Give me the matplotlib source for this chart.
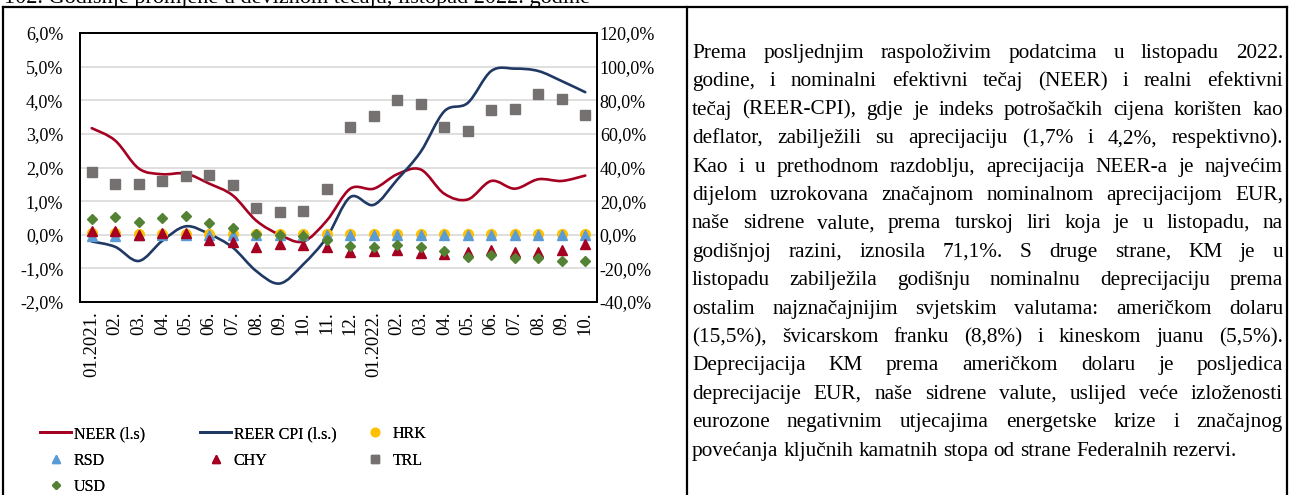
import numpy as np
import matplotlib.pyplot as plt
from matplotlib.path import Path
from matplotlib.patches import PathPatch
from matplotlib.lines import Line2D

plt.rcParams['font.family'] = ['Liberation Serif', 'DejaVu Serif']

W, H = 1290, 495

# monthly categories 01.2021 - 10.2022
months = ['01.2021.', '02.', '03.', '04.', '05.', '06.', '07.', '08.', '09.', '10.', '11.', '12.',
          '01.2022.', '02.', '03.', '04.', '05.', '06.', '07.', '08.', '09.', '10.']

# left axis (%)
neer = [3.17, 2.80, 1.97, 1.80, 1.82, 1.52, 1.17, 0.42, 0.00, -0.20, 0.42, 1.37,
        1.37, 1.80, 1.94, 1.22, 1.05, 1.60, 1.37, 1.65, 1.60, 1.76]
reer = [-0.20, -0.36, -0.78, -0.18, 0.25, 0.02, -0.38, -1.08, -1.45, -0.88, -0.08, 1.12,
        0.89, 1.64, 2.47, 3.67, 3.92, 4.87, 4.94, 4.87, 4.57, 4.24]

# right axis (%)
hrk = [0.8, 0.8, 0.3, 0.2, 0.2, 0.2, 0.2, 0.2, 0.2, 0.2, 0.2, 0.2,
       0.2, 0.2, 0.2, 0.2, 0.2, 0.2, 0.2, 0.2, 0.2, 0.2]
rsd = [-0.6, -0.6, 0.0, 0.0, 0.0, 0.0, 0.0, 0.0, 0.0, 0.0, 0.0, 0.0,
       0.0, 0.0, 0.0, 0.0, 0.0, 0.0, 0.0, 0.0, 0.0, 0.0]
chy = [2.0, 2.0, 0.0, 0.8, 0.8, -3.2, -4.6, -7.0, -5.6, -6.0, -7.2, -10.4,
       -9.4, -8.8, -10.8, -11.4, -10.0, -9.0, -10.4, -10.0, -8.8, -5.5]
trl = [37.4, 30.0, 30.0, 32.0, 35.0, 35.6, 29.6, 16.2, 13.4, 14.0, 27.2, 63.8,
       70.8, 80.4, 78.0, 63.8, 62.0, 74.0, 75.0, 83.6, 81.0, 71.1]
usd = [9.4, 10.8, 7.6, 10.0, 11.4, 7.0, 4.0, 0.2, 0.0, -1.0, -3.0, -6.8,
       -7.0, -5.8, -7.4, -9.4, -13.0, -12.0, -13.8, -14.0, -15.8, -15.5]

title = '102. Godišnje promjene u deviznom tečaju, listopad 2022. godine'

text_lines = [
    'Prema posljednjim raspoloživim podatcima u listopadu 2022.',
    'godine, i nominalni efektivni tečaj (NEER) i realni efektivni',
    'tečaj (REER-CPI), gdje je indeks potrošačkih cijena korišten kao',
    'deflator, zabilježili su aprecijaciju (1,7% i 4,2%, respektivno).',
    'Kao i u prethodnom razdoblju, aprecijacija NEER-a je najvećim',
    'dijelom uzrokovana značajnom nominalnom aprecijacijom EUR,',
    'naše sidrene valute, prema turskoj liri koja je u listopadu, na',
    'godišnjoj razini, iznosila 71,1%. S druge strane, KM je u',
    'listopadu zabilježila godišnju nominalnu deprecijaciju prema',
    'ostalim najznačajnijim svjetskim valutama: američkom dolaru',
    '(15,5%), švicarskom franku (8,8%) i kineskom juanu (5,5%).',
    'Deprecijacija KM prema američkom dolaru je posljedica',
    'deprecijacije EUR, naše sidrene valute, uslijed veće izloženosti',
    'eurozone negativnim utjecajima energetske krize i značajnog',
    'povećanja ključnih kamatnih stopa od strane Federalnih rezervi.',
]

c_neer = '#A50021'
c_reer = '#1F3864'
c_hrk = '#FFC000'
c_rsd = '#5B9BD5'
c_chy = '#A50021'
c_trl = '#767171'
c_usd = '#548235'


def smooth_path(xs, ys):
    # excel-style smoothed line: cubic bezier through every point
    pts = np.column_stack([xs, ys]).astype(float)
    n = len(pts)
    verts = [pts[0]]
    codes = [Path.MOVETO]
    for i in range(n - 1):
        p0 = pts[i - 1] if i > 0 else pts[i]
        p1 = pts[i]
        p2 = pts[i + 1]
        p3 = pts[i + 2] if i + 2 < n else pts[i + 1]
        verts += [p1 + (p2 - p0) / 6, p2 - (p3 - p1) / 6, p2]
        codes += [Path.CURVE4] * 3
    return Path(verts, codes)


fig = plt.figure(figsize=(W / 100, H / 100), dpi=100)

ax = fig.add_axes([80 / W, 1 - 302 / H, (597 - 80) / W, (302 - 33) / H])
x = np.arange(len(months))

ax.set_xlim(-0.5, len(months) - 0.5)
ax.set_ylim(-2, 6)
ax.set_yticks(np.arange(-2, 7, 1))
ax.set_yticklabels([f'{v:.1f}%'.replace('.', ',') for v in np.arange(-2, 7, 1)])
ax.yaxis.grid(True, color='#D9D9D9', lw=1.2)
ax.set_axisbelow(True)
ax.set_xticks(x)
ax.set_xticklabels(months, rotation=90, va='top', ha='center')
ax.tick_params(axis='x', length=0, pad=7, labelsize=13.5)
ax.tick_params(axis='y', length=0, pad=12, labelsize=13)
for s in ax.spines.values():
    s.set_linewidth(1.3)
    s.set_color('black')

for vals, col in [(neer, c_neer), (reer, c_reer)]:
    ax.add_patch(PathPatch(smooth_path(x, vals), fill=False, edgecolor=col,
                           lw=1.9, capstyle='round', joinstyle='round', zorder=3))

ax2 = ax.twinx()
ax2.set_ylim(-40, 120)
ax2.set_yticks(np.arange(-40, 121, 20))
ax2.set_yticklabels([f'{v:.1f}%'.replace('.', ',') for v in np.arange(-40, 121, 20)])
ax2.tick_params(axis='y', length=0, pad=2, labelsize=13)
for s in ax2.spines.values():
    s.set_linewidth(1.3)
    s.set_color('black')

ax2.plot(x, hrk, 'o', color=c_hrk, ms=7, mec=c_hrk, zorder=3)
ax2.plot(x, rsd, '^', color=c_rsd, ms=7.5, mec=c_rsd, zorder=4)
ax2.plot(x, chy, '^', color=c_chy, ms=7.5, mec=c_chy, zorder=5)
ax2.plot(x, trl, 's', color=c_trl, ms=7.5, mec=c_trl, zorder=6)
ax2.plot(x, usd, 'D', color=c_usd, ms=5.5, mec=c_usd, zorder=7)

# legend, three fixed columns
leg_fs = 11.5
cols = [
    [(Line2D([], [], color=c_neer, lw=2), 'NEER (l.s)'),
     (Line2D([], [], ls='none', marker='^', color=c_rsd, ms=6), 'RSD'),
     (Line2D([], [], ls='none', marker='D', color=c_usd, ms=4.5), 'USD')],
    [(Line2D([], [], color=c_reer, lw=2), 'REER CPI (l.s.)'),
     (Line2D([], [], ls='none', marker='^', color=c_chy, ms=6), 'CHY')],
    [(Line2D([], [], ls='none', marker='o', color=c_hrk, ms=6), 'HRK'),
     (Line2D([], [], ls='none', marker='s', color=c_trl, ms=6), 'TRL')],
]
for cx, items in zip([40, 200, 359], cols):
    lg = fig.legend([h for h, _ in items], [l for _, l in items],
                    loc='upper left', bbox_to_anchor=(cx / W, 1 - 426 / H),
                    frameon=False, fontsize=leg_fs, handlelength=1.95,
                    handletextpad=0.15, labelspacing=0.66, borderpad=0,
                    borderaxespad=0)
    fig.add_artist(lg)

# table frame
fl = dict(color='black', lw=1.6, transform=fig.transFigure)
fig.add_artist(Line2D([3 / W, 1287 / W], [1 - 7 / H, 1 - 7 / H], **fl))
for xp in [3, 687, 1287]:
    fig.add_artist(Line2D([xp / W, xp / W], [1 - 7 / H, 0], **fl))

# title, partly cut at the top edge
fig.text(4 / W, 1 - 3 / H, title, fontsize=16, va='baseline')

# justified paragraph in the right cell
txt_fs = 15.3
X0, X1 = 692, 1283
base0, step = 58, 28.4
renderer = fig.canvas.get_renderer()
space_w = txt_fs * 100 / 72 * 0.25
for i, line in enumerate(text_lines):
    words = line.split(' ')
    yfig = 1 - (base0 + i * step) / H
    arts = [fig.text(0, yfig, w, fontsize=txt_fs, va='baseline') for w in words]
    widths = [a.get_window_extent(renderer).width for a in arts]
    last = i == len(text_lines) - 1
    gap = space_w if last else (X1 - X0 - sum(widths)) / (len(words) - 1)
    xp = X0
    for a, w in zip(arts, widths):
        a.set_x(xp / W)
        xp += w + gap

fig.savefig('out.png', dpi=100)
